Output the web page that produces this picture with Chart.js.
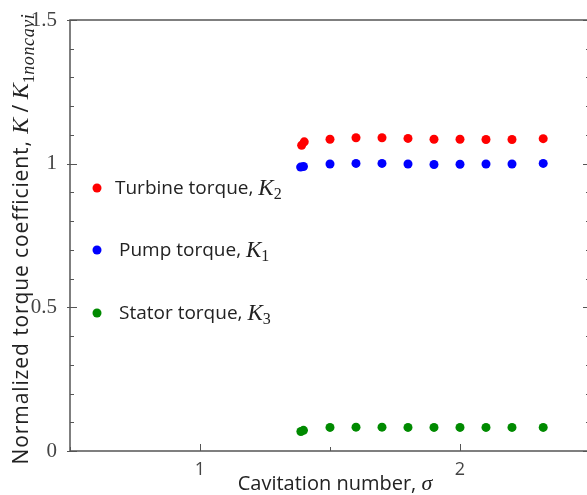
<!DOCTYPE html>
<html>
<head>
<meta charset="utf-8">
<script src="https://cdn.jsdelivr.net/npm/chart.js@4.4.1/dist/chart.umd.min.js"></script>
<style>
    html, body { margin: 0; padding: 0; background: #fff; overflow: hidden; }
    #wrap { width: 600px; height: 495px; }
</style>
</head>
<body>
<div id="wrap"><canvas id="chart" width="600" height="495"></canvas></div>
<script>
// values
const sigmaTurbine = [1.391, 1.401, 1.5, 1.6, 1.7, 1.8, 1.9, 2.0, 2.1, 2.2, 2.32];
const turbineTorque = [1.064, 1.076, 1.085, 1.09, 1.09, 1.088, 1.085, 1.085, 1.084, 1.084, 1.087];
const sigmaPump = [1.387, 1.398, 1.5, 1.6, 1.7, 1.8, 1.9, 2.0, 2.1, 2.2, 2.32];
const pumpTorque = [0.988, 0.99, 0.999, 1.001, 1.001, 0.999, 0.997, 0.998, 0.999, 0.999, 1.001];
const sigmaStator = [1.388, 1.398, 1.5, 1.6, 1.7, 1.8, 1.9, 2.0, 2.1, 2.2, 2.32];
const statorTorque = [0.068, 0.072, 0.082, 0.083, 0.083, 0.082, 0.082, 0.082, 0.082, 0.082, 0.082];

const xTickLabels = ['1', '2'];
const yTickLabels = ['0', '0.5', '1', '1.5'];

const series = [
    { label: 'Turbine torque, ', sub: '2', x: sigmaTurbine, y: turbineTorque, color: '#ff0000' },
    { label: 'Pump torque, ', sub: '1', x: sigmaPump, y: pumpTorque, color: '#0000ff' },
    { label: 'Stator torque, ', sub: '3', x: sigmaStator, y: statorTorque, color: '#008a00' },
];

const AXIS_COLOR = '#555';
const SANS = '"Open Sans", "Noto Sans", sans-serif';
const SERIF = '"Liberation Serif", "DejaVu Serif", serif';

const toPoints = (xs, ys) => xs.map((x, i) => ({ x, y: ys[i] }));
const isLabelled = (v, list) => list.some((t) => Math.abs(parseFloat(t) - v) < 1e-6);
const fmt = (v) => String(Math.round(v * 10) / 10);

// draws a run of pieces [{text, font, dy, ls}] starting at x along the baseline
function drawRun(ctx, pieces, x, y) {
    let cx = x;
    pieces.forEach((p) => {
        ctx.font = p.font;
        ctx.letterSpacing = p.ls || '0px';
        ctx.fillText(p.text, cx, y + (p.dy || 0));
        cx += ctx.measureText(p.text).width;
    });
    ctx.letterSpacing = '0px';
    return cx - x;
}

function runWidth(ctx, pieces) {
    const w = pieces.reduce((sum, p) => {
        ctx.font = p.font;
        ctx.letterSpacing = p.ls || '0px';
        return sum + ctx.measureText(p.text).width;
    }, 0);
    ctx.letterSpacing = '0px';
    return w;
}

const framePlugin = {
    id: 'frame',
    afterDraw(chart) {
        const { ctx, chartArea: a, scales } = chart;
        const xs = scales.x;
        const ys = scales.y;

        ctx.save();
        ctx.strokeStyle = AXIS_COLOR;
        ctx.lineWidth = 1.5;
        ctx.beginPath();
        ctx.moveTo(a.left, a.bottom);
        ctx.lineTo(a.left, a.top);
        ctx.lineTo(a.right, a.top);
        ctx.lineTo(a.right, a.bottom);
        ctx.lineTo(a.left, a.bottom);
        ctx.stroke();

        ctx.lineWidth = 1;
        ctx.beginPath();
        ys.ticks.forEach((t) => {
            const py = Math.round(ys.getPixelForValue(t.value)) + 0.5;
            const major = isLabelled(t.value, yTickLabels);
            ctx.moveTo(a.left - (major ? 3 : 0), py);
            ctx.lineTo(a.left + (major ? 7 : 4), py);
            ctx.moveTo(a.right, py);
            ctx.lineTo(a.right - (major ? 7 : 4), py);
        });
        xs.ticks.forEach((t) => {
            const px = Math.round(xs.getPixelForValue(t.value)) + 0.5;
            const major = isLabelled(t.value, xTickLabels);
            ctx.moveTo(px, a.bottom);
            ctx.lineTo(px, a.bottom - (major ? 7 : 4));
        });
        ctx.stroke();

        // legend inside the plot
        const legendY = [188, 250, 313];
        const textX = [115, 119, 119];
        ctx.textBaseline = 'middle';
        series.forEach((s, i) => {
            ctx.fillStyle = s.color;
            ctx.beginPath();
            ctx.arc(97, legendY[i], 4.5, 0, Math.PI * 2);
            ctx.fill();
            ctx.fillStyle = '#222';
            drawRun(ctx, [
                { text: s.label, font: `19px ${SANS}` },
                { text: 'K', font: `italic 23px ${SERIF}` },
                { text: s.sub, font: `16px ${SERIF}`, dy: 6 },
            ], textX[i], legendY[i] + 1);
        });

        // x axis title
        const xTitle = [
            { text: 'Cavitation number, ', font: `20px ${SANS}` },
            { text: 'σ', font: `italic 22px ${SERIF}` },
        ];
        ctx.textBaseline = 'alphabetic';
        const xw = runWidth(ctx, xTitle);
        drawRun(ctx, xTitle, 335 - xw / 2, 490);

        // y axis title, rotated
        const yTitle = [
            { text: 'Normalized torque coefficient, ', font: `21px ${SANS}`, ls: '0.9px' },
            { text: 'K', font: `italic 24px ${SERIF}` },
            { text: ' / ', font: `21px ${SANS}` },
            { text: 'K', font: `italic 24px ${SERIF}` },
            { text: '1', font: `17px ${SERIF}`, dy: 6 },
            { text: 'noncavi', font: `italic 18px ${SERIF}`, dy: 6, ls: '0.6px' },
        ];
        const yw = runWidth(ctx, yTitle);
        ctx.translate(28, 239);
        ctx.rotate(-Math.PI / 2);
        drawRun(ctx, yTitle, -yw / 2, 0);
        ctx.restore();
    },
};

const chart = new Chart(document.getElementById('chart'), {
    type: 'scatter',
    data: {
        datasets: series.map((s) => ({
            label: s.label,
            data: toPoints(s.x, s.y),
            backgroundColor: s.color,
            borderColor: s.color,
            borderWidth: 0,
            pointRadius: 4.5,
            pointHoverRadius: 4.5,
        })),
    },
    options: {
        responsive: false,
        animation: false,
        devicePixelRatio: 1,
        layout: { padding: { top: 20, right: 10, left: 0, bottom: 0 } },
        plugins: {
            legend: { display: false },
            tooltip: { enabled: false },
        },
        scales: {
            x: {
                type: 'linear',
                min: 0.5,
                max: 2.5,
                grid: { display: false },
                border: { display: false },
                ticks: {
                    stepSize: 0.5,
                    autoSkip: false,
                    maxRotation: 0,
                    padding: 0,
                    color: '#444',
                    font: { family: SANS, size: 18 },
                    callback: (v) => (isLabelled(v, xTickLabels) ? fmt(v) : ''),
                },
                afterFit: (scale) => { scale.height = 44; },
            },
            y: {
                min: 0,
                max: 1.5,
                grid: { display: false },
                border: { display: false },
                ticks: {
                    stepSize: 0.1,
                    autoSkip: false,
                    padding: 5,
                    color: '#444',
                    font: { family: SERIF, size: 21 },
                    callback: (v) => (isLabelled(v, yTickLabels) ? fmt(v) : ''),
                },
                afterFit: (scale) => { scale.width = 70; },
            },
        },
    },
    plugins: [framePlugin],
});
</script>
</body>
</html>
